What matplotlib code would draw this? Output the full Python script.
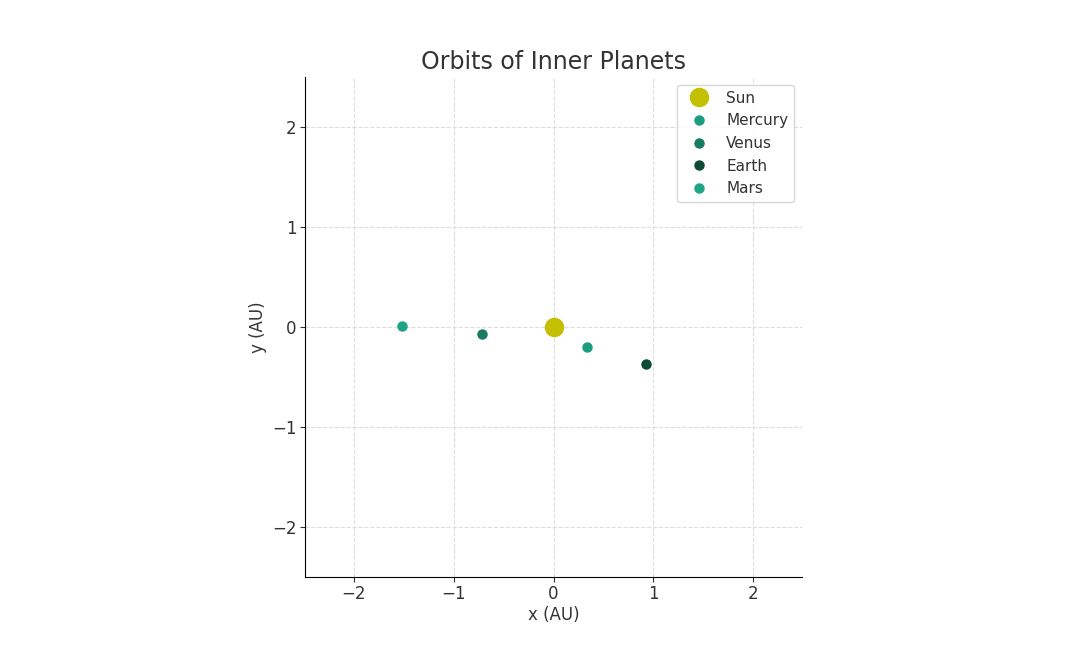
import matplotlib
matplotlib.use('Agg')
import matplotlib.pyplot as plt

# positions in AU
names=['Mercury','Venus','Earth','Mars']
xs=[0.34,-0.72,0.93,-1.52]
ys=[-0.20,-0.07,-0.37,0.01]
colors=['#1b9e80','#187a62','#0e4a38','#1fa386']

plt.rcParams['text.color']='#333333'
plt.rcParams['axes.labelcolor']='#333333'
plt.rcParams['xtick.color']='#333333'
plt.rcParams['ytick.color']='#333333'

fig=plt.figure(figsize=(10.8,6.48),dpi=100)
ax=fig.add_axes([0.2824,0.1096,0.4602,0.7716])
ax.plot(0,0,'o',color='#c2c000',markersize=13,label='Sun')
for n,x,y,c in zip(names,xs,ys,colors):
    ax.plot(x,y,'o',color=c,markersize=6.5,label=n)
ax.set_xlim(-2.5,2.5)
ax.set_ylim(-2.5,2.5)
ax.set_aspect('equal',adjustable='datalim')
ax.set_xlim(-2.5,2.5)
ax.set_ylim(-2.5,2.5)
ax.set_xticks([-2,-1,0,1,2])
ax.set_yticks([-2,-1,0,1,2])
ax.tick_params(labelsize=12,pad=2.5)
ax.grid(True,linestyle='--',color='#dddddd',linewidth=0.8)
ax.spines['top'].set_visible(False)
ax.spines['right'].set_visible(False)
ax.set_title('Orbits of Inner Planets',fontsize=17)
ax.set_xlabel('x (AU)',fontsize=12,labelpad=2)
ax.set_ylabel('y (AU)',fontsize=12)
ax.legend(loc='upper right',fontsize=11)
fig.savefig('out.png')
